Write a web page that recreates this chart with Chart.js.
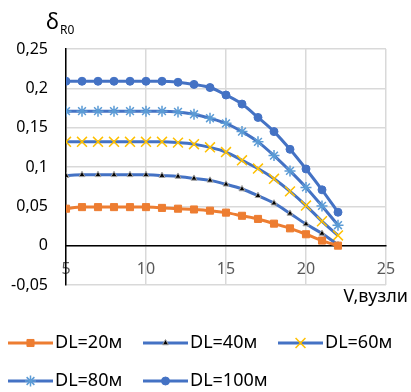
<!DOCTYPE html>
<html>
<head>
<meta charset="utf-8">
<script src="https://cdn.jsdelivr.net/npm/chart.js@4/dist/chart.umd.min.js"></script>
<style>
  html, body { margin: 0; padding: 0; background: #fff; }
  #wrap { width: 411px; height: 392px; }
</style>
</head>
<body>
<div id="wrap"><canvas id="chart" width="411" height="392"></canvas></div>
<script>
// speed, knots
const speeds = [5, 6, 7, 8, 9, 10, 11, 12, 13, 14, 15, 16, 17, 18, 19, 20, 21, 22];

// delta R0 for each DL
const dl20 = [0.047, 0.049, 0.049, 0.049, 0.049, 0.049, 0.048, 0.047, 0.046, 0.0445, 0.042, 0.038, 0.034, 0.028, 0.022, 0.0145, 0.0065, 0];
const dl40 = [0.089, 0.09, 0.09, 0.09, 0.09, 0.09, 0.089, 0.088, 0.0855, 0.083, 0.078, 0.072, 0.0635, 0.054, 0.041, 0.0275, 0.0155, 0.001];
const dl60 = [0.132, 0.132, 0.132, 0.132, 0.132, 0.132, 0.132, 0.131, 0.129, 0.125, 0.119, 0.1085, 0.098, 0.085, 0.069, 0.051, 0.031, 0.013];
const dl80 = [0.171, 0.171, 0.171, 0.171, 0.171, 0.171, 0.171, 0.17, 0.167, 0.162, 0.1555, 0.145, 0.132, 0.1145, 0.095, 0.074, 0.0505, 0.026];
const dl100 = [0.209, 0.209, 0.209, 0.209, 0.209, 0.209, 0.209, 0.2077, 0.205, 0.201, 0.1915, 0.18, 0.163, 0.145, 0.1225, 0.0975, 0.071, 0.0425];

const seriesNames = ['DL=20м', 'DL=40м', 'DL=60м', 'DL=80м', 'DL=100м'];

const xTicks = [5, 10, 15, 20, 25];
const yTicks = [-0.05, 0, 0.05, 0.1, 0.15, 0.2, 0.25];

const FONT = "'Noto Sans', 'Liberation Sans', sans-serif";

function pts(values) {
  return values.map((v, i) => ({ x: speeds[i], y: v }));
}

function series(label, values, line, marker) {
  return Object.assign({
    label: label,
    data: pts(values),
    borderColor: line,
    borderWidth: 3,
    cubicInterpolationMode: 'monotone',
    fill: false
  }, marker);
}

const datasets = [
  series(seriesNames[0], dl20, '#ED7D31', {
    pointStyle: 'rect', pointRadius: 5, pointBackgroundColor: '#ED7D31', pointBorderColor: '#ED7D31', pointBorderWidth: 1
  }),
  series(seriesNames[1], dl40, '#4472C4', {
    pointStyle: 'triangle', pointRadius: 3.5, pointBackgroundColor: '#000000', pointBorderColor: '#A5A5A5', pointBorderWidth: 1
  }),
  series(seriesNames[2], dl60, '#4472C4', {
    pointStyle: 'crossRot', pointRadius: 7, pointBackgroundColor: '#FFC000', pointBorderColor: '#FFC000', pointBorderWidth: 1.5
  }),
  series(seriesNames[3], dl80, '#4472C4', {
    pointStyle: 'star', pointRadius: 5.5, pointBackgroundColor: '#5B9BD5', pointBorderColor: '#5B9BD5', pointBorderWidth: 1.5
  }),
  series(seriesNames[4], dl100, '#4472C4', {
    pointStyle: 'circle', pointRadius: 4, pointBackgroundColor: '#4472C4', pointBorderColor: '#4472C4', pointBorderWidth: 1
  })
];

// axis titles and legend drawn on canvas
const extras = {
  id: 'extras',
  afterDraw(chart) {
    const ctx = chart.ctx;
    ctx.save();
    ctx.fillStyle = '#000';
    ctx.textBaseline = 'alphabetic';

    // y title: delta with subscript
    ctx.textAlign = 'left';
    ctx.font = '22px ' + FONT;
    ctx.fillText('δ', 46, 29);
    ctx.font = '12px ' + FONT;
    ctx.fillText('R0', 60, 34);

    // x title
    ctx.textAlign = 'right';
    ctx.font = '18px ' + FONT;
    ctx.fillText('V,вузли', 408, 302);

    // legend
    const cols = [8, 143, 278];
    const rows = [343, 381];
    ctx.textAlign = 'left';
    ctx.textBaseline = 'middle';
    chart.data.datasets.forEach((ds, i) => {
      const x = cols[i % 3];
      const y = rows[Math.floor(i / 3)];
      ctx.strokeStyle = ds.borderColor;
      ctx.lineWidth = 3;
      ctx.beginPath();
      ctx.moveTo(x, y);
      ctx.lineTo(x + 45, y);
      ctx.stroke();
      ctx.fillStyle = ds.pointBackgroundColor;
      ctx.strokeStyle = ds.pointBorderColor;
      ctx.lineWidth = ds.pointBorderWidth;
      Chart.helpers.drawPoint(ctx, {
        pointStyle: ds.pointStyle,
        radius: ds.pointRadius,
        borderWidth: ds.pointBorderWidth,
        rotation: 0
      }, x + 22.5, y);
      ctx.fillStyle = '#000';
      ctx.font = '18px ' + FONT;
      ctx.fillText(ds.label, x + 47, y);
    });
    ctx.restore();
  }
};

new Chart(document.getElementById('chart'), {
  type: 'line',
  data: { datasets: datasets },
  options: {
    responsive: false,
    animation: false,
    layout: { padding: { left: 0, top: 49, right: 25, bottom: 107 } },
    plugins: {
      legend: { display: false },
      tooltip: { enabled: false }
    },
    scales: {
      x: {
        type: 'linear',
        position: { y: 0 },
        min: 5,
        max: 25,
        afterBuildTicks: (s) => { s.ticks = xTicks.map(v => ({ value: v })); },
        grid: { color: '#D9D9D9', lineWidth: 1.5, drawTicks: false, z: -1 },
        border: { color: '#000', width: 1.5 },
        ticks: {
          padding: 14,
          color: '#595959',
          font: { family: FONT, size: 16 }
        }
      },
      y: {
        min: -0.05,
        max: 0.25,
        afterBuildTicks: (s) => { s.ticks = yTicks.map(v => ({ value: v })); },
        afterFit: (s) => { s.width = 66; },
        grid: { color: '#D9D9D9', lineWidth: 1.5, drawTicks: false, z: -1 },
        border: { color: '#000', width: 1.5 },
        ticks: {
          padding: 18,
          color: '#000',
          font: { family: FONT, size: 16 },
          callback: (v) => String(Math.round(v * 100) / 100).replace('.', ',')
        }
      }
    }
  },
  plugins: [extras]
});
</script>
</body>
</html>
